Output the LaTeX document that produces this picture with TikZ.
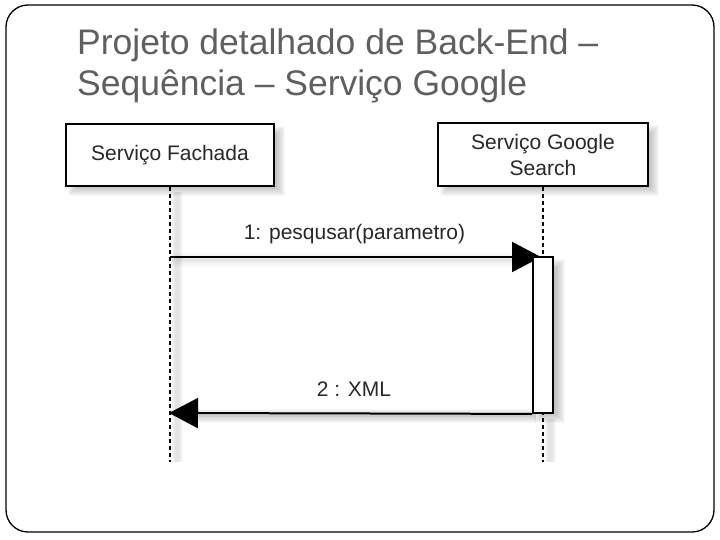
\documentclass[tikz,border=0pt]{standalone}
\usepackage{fontspec}
\setmainfont{Liberation Sans}
\usetikzlibrary{arrows.meta}
\definecolor{titlegray}{RGB}{95,95,95}
\definecolor{txtgray}{RGB}{40,40,40}
\tikzset{
  x=1pt, y=-1pt,
  frame/.style={draw=black, line width=1.3pt, rounded corners=22pt},
  titletext/.style={anchor=base west, inner sep=0pt, text=titlegray, font=\fontsize{35.5}{41.5}\selectfont},
  lifebox/.style={draw=black, fill=white, line width=1.8pt, inner sep=0pt, align=center, text=txtgray, font=\fontsize{21}{26}\selectfont},
  actbox/.style={draw=black, fill=white, line width=1.8pt, inner sep=0pt, minimum width=20pt, minimum height=156pt},
  lifeline/.style={draw=black, line width=1.4pt, dash pattern=on 4.5pt off 2.5pt},
  msg/.style={draw=black, line width=2pt, -{Triangle[length=29pt, width=30pt]}},
  msglabel/.style={anchor=base, inner sep=0pt, text=txtgray, font=\fontsize{21}{26}\selectfont},
  softshade/.style={fill=black, opacity=0.028},
  faintshade/.style={fill=black, opacity=0.012},
}
\begin{document}
\begin{tikzpicture}
\useasboundingbox (0,0) rectangle (720,540);
\draw[frame] (6,5) rectangle (714,532);

\node[titletext] (title1) at (77,54.5) {Projeto detalhado de Back-End –};
\node[titletext] (title2) at (77,96) {Sequência – Serviço Google};

% soft shadows
\foreach \k in {-4,...,4} {
  \fill[softshade] (72-\k,130-\k) rectangle (281+\k,192+\k);
  \fill[softshade] (444-\k,129-\k) rectangle (655+\k,192+\k);
  \fill[softshade] (538-\k,263-\k) rectangle (561+\k,419+\k);
  \fill[faintshade] (172-\k/2,257-\k) rectangle (536,263+\k);
  \fill[softshade] (190,413-\k) rectangle (536,419+\k);
  \fill[faintshade] (173-\k/2,192) rectangle (181+\k/2,462);
  \fill[faintshade] (546-\k/2,419) rectangle (554+\k/2,462);
}

\node[lifebox, minimum width=208pt, minimum height=62pt] (fach) at (170,155) {Serviço Fachada};
\node[lifebox, minimum width=210pt, minimum height=63pt] (goog) at (543,154.5) {Serviço Google\\Search};

\coordinate (fachEnd) at (170,462);
\coordinate (googEnd) at (543,462);
\draw[lifeline] (fach.south) -- (fachEnd);
\draw[lifeline] (goog.south) -- (googEnd);

\coordinate (m1start) at (170,257);
\coordinate (m1end) at (541,257);
\coordinate (m2end) at (169,413);
\draw[msg] (m1start) -- (m1end);
\node[actbox] (act) at (543,335) {};
\draw[msg] (act.south west) -- (m2end);

\node[msglabel] (lbl1) at (354.5,240) {1: pesqusar(parametro)};
\node[msglabel] (lbl2) at (354,396) {2 : XML};
\end{tikzpicture}
\end{document}
